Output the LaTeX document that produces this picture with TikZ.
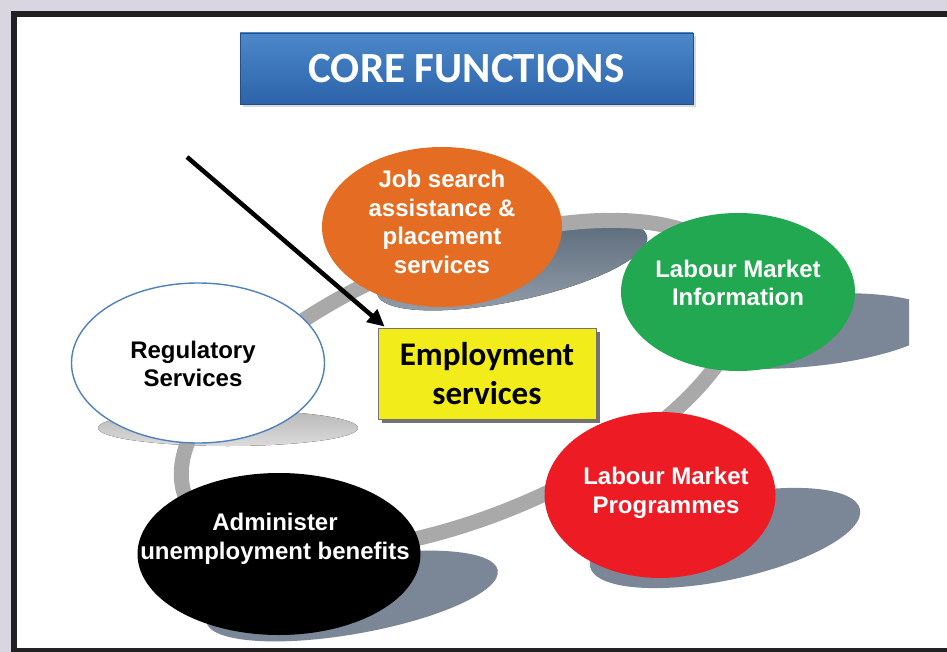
\documentclass[tikz,border=0pt]{standalone}
\usepackage{fontspec}
\setmainfont{Liberation Sans}
\newfontfamily\calibri{Carlito}
\usetikzlibrary{shapes.geometric,arrows.meta}
\definecolor{lav}{HTML}{D9D6E2}
\definecolor{framec}{HTML}{222022}
\definecolor{ringc}{HTML}{A9A9A9}
\definecolor{shadc}{HTML}{7B8796}
\definecolor{shadd}{HTML}{5A6A7A}
\definecolor{orangec}{HTML}{E46C23}
\definecolor{greenc}{HTML}{22A850}
\definecolor{redc}{HTML}{ED1C24}
\definecolor{yellowc}{HTML}{F2EC1A}
\definecolor{bluetop}{HTML}{4C88CA}
\definecolor{bluebot}{HTML}{2C63AA}
\definecolor{regblue}{HTML}{4F81BD}
\tikzset{
  blob/.style={ellipse, inner sep=0pt},
  txt/.style={inner sep=0pt, align=center, font=\bfseries\fontsize{24}{28.5}\selectfont},
  shade/.style={fill=shadc},
}
\begin{document}
\begin{tikzpicture}[x=1pt,y=-1pt]
\useasboundingbox (0,0) rectangle (947,652);
% frame
\fill[lav] (0,0) rectangle (947,652);
\fill[framec] (11,11) rectangle (960,660);
\fill[white] (17,17) rectangle (960,648);
% title
\fill[black!15] (243,36) rectangle (696,107);
\node[draw=bluebot!80!black, line width=0.6pt, top color=bluetop, bottom color=bluebot,
      minimum width=453pt, minimum height=71pt, inner sep=0pt,
      text=white, font=\calibri\bfseries\fontsize{43}{50}\selectfont] (title) at (466.5,68.5) {CORE FUNCTIONS};
% shadows
\fill[top color=black!28, bottom color=black!14] (228,428) ellipse [x radius=130, y radius=18];
\fill[top color=shadd, bottom color=shadc!80, rotate around={12:(512,265)}] (512,265) ellipse [x radius=138, y radius=36];
\begin{scope}
\clip (17,17) rectangle (909,648);
\fill[shade, rotate around={5:(803,331)}] (803,331) ellipse [x radius=138, y radius=36];
\end{scope}
\fill[shade, rotate around={12:(725,538)}] (725,538) ellipse [x radius=138, y radius=42];
\fill[shade, rotate around={10:(352,596)}] (352,596) ellipse [x radius=148, y radius=38];
% ring
\draw[ringc, line width=15pt, rotate around={22:(462,386)}] (462,386) ellipse [x radius=298, y radius=132];
% nodes
\node[blob, fill=orangec, minimum width=240pt, minimum height=160pt,
  label={[txt,text=white,yshift=5pt]center:{Job search\\assistance \&\\placement\\services}}] (jobsearch) at (442,227) {};
\node[blob, fill=greenc, minimum width=234pt, minimum height=158pt,
  label={[txt,text=white,yshift=9pt]center:{Labour Market\\Information}}] (lmi) at (738,292) {};
\node[blob, fill=redc, minimum width=231pt, minimum height=166pt,
  label={[txt,text=white,xshift=6pt,yshift=2pt]center:{Labour Market\\Programmes}}] (lmp) at (660,495) {};
\node[blob, fill=black, minimum width=283pt, minimum height=162pt,
  label={[txt,text=white,xshift=-4pt,yshift=15pt]center:{Administer\\unemployment benefits}}] (admin) at (279,554) {};
\node[blob, fill=white, draw=regblue, line width=1.4pt, minimum width=253pt, minimum height=160pt,
  label={[txt,text=black,xshift=-5pt,yshift=-1pt]center:{Regulatory\\Services}}] (reg) at (198,363) {};
% employment box
\fill[black!55] (382,332) rectangle (600,423);
\node[draw=black!55, line width=0.8pt, fill=yellowc, minimum width=218pt, minimum height=91pt, inner sep=0pt,
      align=center, font=\calibri\bfseries\fontsize{33}{39}\selectfont] (emp) at (487,373.5) {Employment\\services};
% arrow
\coordinate (astart) at (187,157);
\draw[line width=4.5pt, -{Triangle[length=17pt,width=16pt]}] (astart) -- ([xshift=7pt,yshift=1pt]emp.north west);
\end{tikzpicture}
\end{document}
